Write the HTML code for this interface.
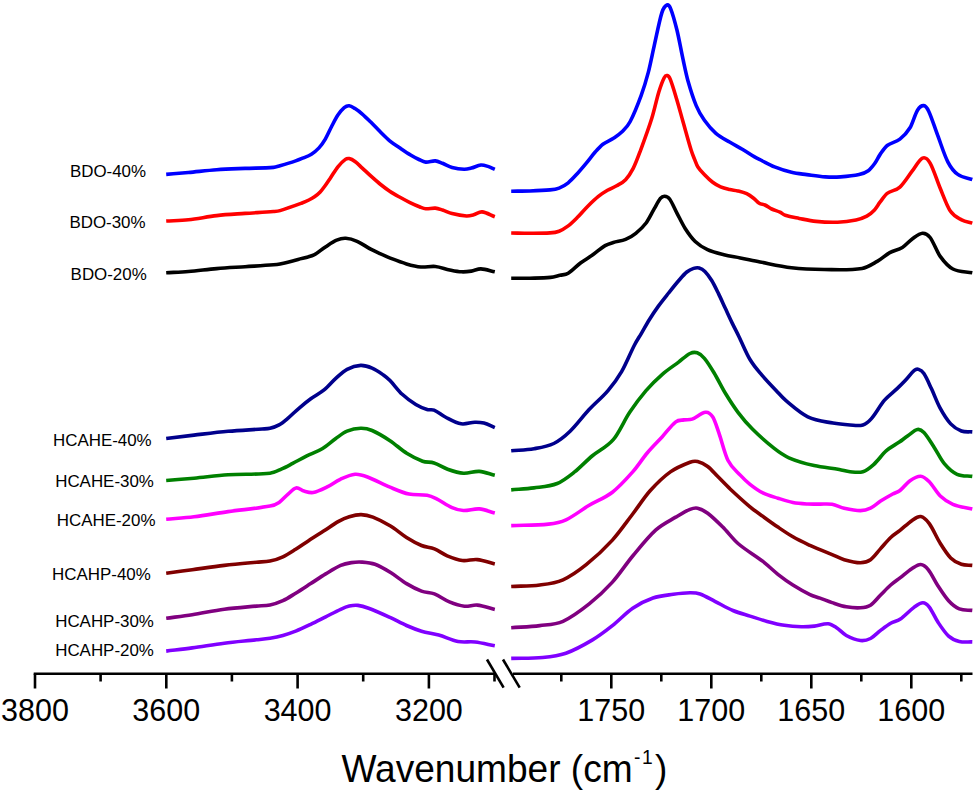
<!DOCTYPE html>
<html><head><meta charset="utf-8"><style>
html,body{margin:0;padding:0;background:#fff;width:976px;height:793px;overflow:hidden}
svg{display:block;font-family:"Liberation Sans",sans-serif}
.curves path{fill:none;stroke-width:3.6;stroke-linejoin:round;stroke-linecap:butt}
.ax line{stroke:#000;stroke-width:2.6;stroke-linecap:butt}
.tl{font-size:30.5px;text-anchor:middle}
</style></head><body>
<svg width="976" height="793" viewBox="0 0 976 793">
<g class="curves">
<path d="M166.2,174.4 C173.60,173.77 181.00,173.19 188.4,172.5 C197.83,171.62 207.27,170.38 216.7,169.7 C226.17,169.02 235.63,168.78 245.1,168.4 C254.57,168.02 264.03,168.13 273.5,167.4 C275.67,167.23 277.83,166.33 280.0,165.7 C285.00,164.23 290.00,162.76 295.0,161.1 C297.53,160.26 300.07,159.27 302.6,158.2 C305.53,156.97 308.47,156.04 311.4,154.2 C313.93,152.61 316.47,150.65 319.0,147.9 C321.10,145.62 323.20,142.67 325.3,139.1 C327.40,135.53 329.50,130.50 331.6,126.5 C333.70,122.50 335.80,118.25 337.9,115.1 C340.00,111.95 342.10,109.35 344.2,107.6 C345.87,106.21 347.53,105.55 349.2,105.7 C351.13,105.88 353.07,107.38 355.0,108.6 C357.33,110.08 359.67,111.80 362.0,113.8 C365.00,116.37 368.00,119.35 371.0,122.3 C374.00,125.25 377.00,128.53 380.0,131.5 C383.23,134.70 386.47,138.13 389.7,140.8 C393.13,143.63 396.57,145.68 400.0,148.0 C403.67,150.48 407.33,152.98 411.0,155.2 C413.67,156.81 416.33,158.25 419.0,159.5 C421.23,160.55 423.47,161.91 425.7,162.1 C428.90,162.37 432.10,160.67 435.3,160.9 C437.70,161.07 440.10,162.37 442.5,163.3 C445.70,164.54 448.90,166.51 452.1,167.4 C456.10,168.51 460.10,169.15 464.1,169.3 C466.50,169.39 468.90,168.71 471.3,168.1 C474.50,167.28 477.70,165.33 480.9,165.0 C483.27,164.76 485.63,165.67 488.0,166.4 C490.27,167.10 492.53,168.33 494.8,169.3" stroke="#0000ff"/>
<path d="M166.2,221.0 C173.60,220.60 181.00,220.59 188.4,219.8 C197.83,218.79 207.27,216.66 216.7,215.6 C226.17,214.53 235.63,214.08 245.1,213.4 C254.57,212.72 264.03,212.26 273.5,211.5 C275.67,211.33 277.83,211.25 280.0,210.6 C287.33,208.41 294.67,205.69 302.0,203.0 C304.30,202.16 306.60,201.14 308.9,200.0 C310.77,199.07 312.63,198.12 314.5,196.8 C316.40,195.45 318.30,193.99 320.2,192.0 C321.90,190.22 323.60,187.82 325.3,185.5 C326.97,183.22 328.63,180.67 330.3,178.2 C332.83,174.44 335.37,169.95 337.9,166.8 C340.40,163.69 342.90,161.21 345.4,159.4 C346.67,158.48 347.93,158.32 349.2,158.6 C351.13,159.02 353.07,160.11 355.0,161.5 C357.33,163.18 359.67,165.66 362.0,167.8 C365.00,170.56 368.00,173.50 371.0,176.2 C374.00,178.90 377.00,181.59 380.0,184.0 C383.23,186.59 386.47,189.05 389.7,191.2 C393.13,193.48 396.57,195.37 400.0,197.3 C403.33,199.17 406.67,200.98 410.0,202.6 C413.33,204.22 416.67,205.68 420.0,207.0 C421.90,207.75 423.80,208.66 425.7,208.8 C428.90,209.03 432.10,207.87 435.3,208.1 C437.70,208.27 440.10,209.21 442.5,210.0 C445.70,211.05 448.90,212.80 452.1,213.6 C456.90,214.80 461.70,215.73 466.5,216.0 C468.90,216.13 471.30,215.43 473.7,214.8 C476.47,214.07 479.23,211.65 482.0,211.9 C486.27,212.28 490.53,215.10 494.8,216.7" stroke="#ff0000"/>
<path d="M166.2,272.8 C173.60,272.37 181.00,272.12 188.4,271.5 C197.83,270.72 207.27,269.40 216.7,268.6 C226.17,267.80 235.63,267.33 245.1,266.7 C254.57,266.07 264.03,265.56 273.5,264.8 C275.67,264.63 277.83,264.38 280.0,263.9 C286.03,262.58 292.07,261.00 298.1,259.4 C303.40,258.00 308.70,257.33 314.0,254.9 C317.80,253.16 321.60,249.38 325.4,246.9 C329.17,244.44 332.93,241.69 336.7,240.1 C339.73,238.82 342.77,238.12 345.8,238.3 C349.57,238.52 353.33,239.65 357.1,241.3 C361.63,243.28 366.17,246.75 370.7,249.2 C373.80,250.88 376.90,252.28 380.0,253.7 C383.23,255.18 386.47,256.66 389.7,257.9 C395.30,260.06 400.90,262.27 406.5,263.9 C411.30,265.30 416.10,266.57 420.9,267.0 C425.70,267.43 430.50,266.02 435.3,266.5 C440.10,266.98 444.90,268.93 449.7,269.9 C453.67,270.70 457.63,271.58 461.6,271.8 C464.83,271.98 468.07,271.59 471.3,271.1 C474.50,270.62 477.70,268.80 480.9,268.9 C485.53,269.04 490.17,270.83 494.8,271.8" stroke="#000000"/>
<path d="M166.2,438.5 C175.47,437.37 184.73,436.18 194.0,435.1 C205.37,433.78 216.73,432.32 228.1,431.3 C239.43,430.28 250.77,429.81 262.1,429.0 C264.73,428.81 267.37,428.94 270.0,428.3 C273.03,427.57 276.07,426.61 279.1,424.9 C282.10,423.21 285.10,420.61 288.1,418.1 C291.90,414.91 295.70,411.03 299.5,407.8 C303.27,404.60 307.03,401.54 310.8,398.8 C315.33,395.50 319.87,393.40 324.4,389.7 C328.20,386.60 332.00,381.81 335.8,378.4 C339.57,375.01 343.33,371.27 347.1,369.3 C351.63,366.93 356.17,365.62 360.7,365.4 C364.50,365.22 368.30,366.49 372.1,368.1 C375.87,369.69 379.63,372.37 383.4,375.0 C385.60,376.54 387.80,378.34 390.0,380.6 C394.07,384.77 398.13,390.53 402.2,394.3 C406.73,398.50 411.27,401.73 415.8,404.5 C419.57,406.80 423.33,408.34 427.1,409.5 C429.40,410.21 431.70,409.15 434.0,410.1 C437.77,411.65 441.53,415.10 445.3,417.0 C450.60,419.67 455.90,422.87 461.2,423.8 C465.73,424.60 470.27,422.34 474.8,422.2 C477.83,422.11 480.87,422.28 483.9,423.1 C487.53,424.08 491.17,426.10 494.8,427.6" stroke="#00008c"/>
<path d="M166.2,480.5 C175.47,479.73 184.73,479.05 194.0,478.2 C205.37,477.15 216.73,475.55 228.1,474.8 C242.07,473.88 256.03,474.70 270.0,473.2 C273.77,472.80 277.53,470.73 281.3,469.1 C285.10,467.46 288.90,465.36 292.7,463.4 C297.23,461.06 301.77,458.46 306.3,456.2 C311.60,453.56 316.90,451.88 322.2,448.7 C326.73,445.98 331.27,441.69 335.8,438.5 C339.57,435.85 343.33,432.74 347.1,431.2 C351.63,429.34 356.17,428.43 360.7,428.3 C364.50,428.19 368.30,428.89 372.1,430.5 C378.07,433.03 384.03,436.77 390.0,440.7 C395.57,444.37 401.13,449.80 406.7,453.3 C412.00,456.63 417.30,459.32 422.6,461.2 C426.40,462.55 430.20,461.78 434.0,463.0 C438.53,464.45 443.07,467.63 447.6,469.2 C452.87,471.03 458.13,472.83 463.4,473.2 C468.70,473.57 474.00,471.05 479.3,471.4 C484.47,471.75 489.63,474.00 494.8,475.3" stroke="#008000"/>
<path d="M166.2,519.2 C175.47,518.40 184.73,517.94 194.0,516.8 C205.37,515.40 216.73,513.20 228.1,511.6 C242.07,509.63 256.03,508.62 270.0,506.1 C273.03,505.55 276.07,504.41 279.1,502.4 C282.10,500.41 285.10,496.66 288.1,494.1 C290.77,491.83 293.43,488.40 296.1,487.9 C298.73,487.40 301.37,490.39 304.0,491.1 C307.03,491.92 310.07,493.02 313.1,492.5 C317.63,491.72 322.17,489.40 326.7,487.2 C331.23,485.00 335.77,481.36 340.3,479.3 C345.23,477.06 350.17,474.72 355.1,474.3 C359.23,473.95 363.37,475.47 367.5,477.0 C375.00,479.77 382.50,484.11 390.0,487.2 C396.33,489.81 402.67,492.72 409.0,494.1 C415.03,495.42 421.07,494.28 427.1,495.3 C430.13,495.81 433.17,497.20 436.2,498.7 C441.50,501.33 446.80,505.40 452.1,507.7 C455.87,509.33 459.63,510.33 463.4,510.5 C468.70,510.73 474.00,508.48 479.3,508.9 C484.47,509.31 489.63,511.63 494.8,513.0" stroke="#ff00ff"/>
<path d="M166.2,573.3 C174.87,572.10 183.53,570.88 192.2,569.7 C202.90,568.25 213.60,566.65 224.3,565.4 C235.03,564.15 245.77,563.21 256.5,562.2 C261.00,561.78 265.50,562.02 270.0,561.1 C274.30,560.22 278.60,558.77 282.9,556.8 C287.17,554.84 291.43,551.97 295.7,549.3 C300.00,546.61 304.30,543.51 308.6,540.7 C313.60,537.44 318.60,534.32 323.6,531.1 C328.60,527.88 333.60,524.20 338.6,521.4 C342.17,519.40 345.73,517.78 349.3,516.7 C353.23,515.51 357.17,514.53 361.1,514.6 C365.03,514.67 368.97,515.57 372.9,517.1 C378.77,519.37 384.63,522.44 390.5,526.0 C395.83,529.24 401.17,534.15 406.5,537.5 C411.50,540.65 416.50,543.46 421.5,545.5 C425.80,547.26 430.10,547.18 434.4,548.9 C438.67,550.61 442.93,554.03 447.2,555.8 C452.23,557.89 457.27,559.86 462.3,560.5 C467.30,561.13 472.30,559.08 477.3,559.6 C483.13,560.21 488.97,562.47 494.8,563.9" stroke="#800000"/>
<path d="M166.2,618.3 C174.87,617.10 183.53,616.04 192.2,614.7 C202.90,613.04 213.60,610.73 224.3,609.3 C235.03,607.86 245.77,607.11 256.5,606.1 C261.00,605.68 265.50,605.92 270.0,605.0 C274.30,604.12 278.60,602.67 282.9,600.7 C287.17,598.74 291.43,595.82 295.7,593.2 C300.70,590.12 305.70,586.82 310.7,583.6 C315.70,580.38 320.70,576.93 325.7,573.9 C330.70,570.87 335.70,567.60 340.7,565.4 C344.27,563.83 347.83,563.15 351.4,562.6 C354.97,562.05 358.53,561.84 362.1,562.1 C366.40,562.41 370.70,562.71 375.0,564.3 C380.33,566.27 385.67,569.53 391.0,572.8 C396.17,575.97 401.33,580.50 406.5,583.6 C411.50,586.60 416.50,589.25 421.5,591.1 C425.80,592.69 430.10,592.24 434.4,593.9 C439.40,595.84 444.40,599.85 449.4,601.9 C454.40,603.95 459.40,605.63 464.4,606.2 C468.70,606.69 473.00,604.65 477.3,605.1 C483.13,605.71 488.97,607.97 494.8,609.4" stroke="#800080"/>
<path d="M166.2,651.1 C174.87,650.03 183.53,649.08 192.2,647.9 C202.90,646.45 213.60,644.55 224.3,643.2 C235.03,641.85 245.77,640.97 256.5,639.8 C261.00,639.31 265.50,638.95 270.0,638.2 C274.30,637.48 278.60,636.59 282.9,635.4 C287.17,634.22 291.43,632.80 295.7,631.1 C300.70,629.10 305.70,626.68 310.7,624.3 C315.70,621.92 320.70,619.30 325.7,616.8 C330.70,614.30 335.70,611.57 340.7,609.3 C343.57,608.00 346.43,606.75 349.3,606.1 C352.17,605.45 355.03,605.09 357.9,605.4 C361.47,605.79 365.03,606.87 368.6,608.2 C375.73,610.87 382.87,614.14 390.0,617.4 C395.50,619.91 401.00,623.09 406.5,625.5 C411.50,627.69 416.50,629.71 421.5,631.2 C427.23,632.91 432.97,633.48 438.7,635.1 C445.13,636.92 451.57,640.28 458.0,641.5 C463.70,642.58 469.40,641.33 475.1,642.0 C481.67,642.77 488.23,644.53 494.8,645.8" stroke="#8000ff"/>
<path d="M511.2,191.2 C517.47,191.13 523.73,191.21 530.0,191.0 C536.67,190.78 543.33,190.56 550.0,189.9 C553.03,189.60 556.07,189.28 559.1,188.1 C562.13,186.92 565.17,185.21 568.2,182.8 C571.20,180.41 574.20,176.97 577.2,173.7 C580.23,170.40 583.27,166.75 586.3,163.1 C589.33,159.45 592.37,155.25 595.4,151.8 C597.90,148.95 600.40,146.08 602.9,144.2 C606.43,141.55 609.97,140.51 613.5,138.2 C616.53,136.21 619.57,134.33 622.6,131.3 C625.13,128.77 627.67,126.40 630.2,121.5 C633.87,114.40 637.53,105.25 641.2,95.3 C643.57,88.88 645.93,81.42 648.3,72.4 C650.30,64.78 652.30,54.19 654.3,45.4 C656.83,34.26 659.37,20.66 661.9,12.6 C663.60,7.19 665.30,5.73 667.0,5.0 C668.23,4.47 669.47,5.68 670.7,8.8 C672.80,14.11 674.90,21.68 677.0,30.3 C679.03,38.65 681.07,50.33 683.1,59.7 C684.73,67.23 686.37,75.28 688.0,81.0 C690.73,90.58 693.47,99.05 696.2,105.6 C698.93,112.15 701.67,116.44 704.4,120.3 C708.23,125.71 712.07,130.11 715.9,133.4 C720.60,137.44 725.30,139.49 730.0,142.3 C734.10,144.75 738.20,146.77 742.3,149.2 C746.40,151.63 750.50,154.49 754.6,156.9 C756.63,158.09 758.67,158.98 760.7,160.0 C765.33,162.32 769.97,165.05 774.6,166.9 C780.23,169.15 785.87,170.95 791.5,172.3 C796.60,173.52 801.70,173.91 806.8,174.6 C812.97,175.44 819.13,176.48 825.3,176.9 C830.40,177.25 835.50,177.25 840.6,176.9 C846.77,176.48 852.93,175.98 859.1,174.6 C862.17,173.91 865.23,172.85 868.3,170.7 C870.37,169.25 872.43,166.64 874.5,163.8 C876.33,161.28 878.17,157.24 880.0,154.6 C882.40,151.14 884.80,147.36 887.2,145.5 C891.43,142.22 895.67,142.49 899.9,139.2 C903.27,136.59 906.63,133.35 910.0,127.8 C912.50,123.68 915.00,114.22 917.5,110.2 C919.60,106.82 921.70,105.38 923.8,105.6 C925.47,105.78 927.13,107.83 928.8,111.4 C931.77,117.76 934.73,127.53 937.7,135.4 C941.07,144.33 944.43,155.27 947.8,161.8 C951.13,168.27 954.47,171.99 957.8,174.4 C962.63,177.89 967.47,177.80 972.3,179.5" stroke="#0000ff"/>
<path d="M511.2,233.0 C517.47,233.10 523.73,233.32 530.0,233.3 C536.67,233.28 543.33,233.38 550.0,232.9 C553.03,232.68 556.07,232.37 559.1,231.2 C562.13,230.03 565.17,228.18 568.2,225.9 C571.20,223.65 574.20,220.62 577.2,217.6 C580.73,214.05 584.27,209.73 587.8,206.2 C591.33,202.67 594.87,199.25 598.4,196.4 C601.43,193.95 604.47,192.07 607.5,190.3 C610.53,188.53 613.57,187.58 616.6,185.8 C619.60,184.04 622.60,182.84 625.6,179.7 C628.13,177.04 630.67,173.31 633.2,168.4 C635.47,164.01 637.73,157.91 640.0,151.8 C643.93,141.21 647.87,130.79 651.8,118.3 C654.17,110.79 656.53,99.55 658.9,91.8 C660.67,86.02 662.43,81.15 664.2,77.7 C665.20,75.75 666.20,75.32 667.2,75.6 C668.23,75.89 669.27,76.83 670.3,79.4 C672.40,84.63 674.50,92.01 676.6,99.0 C678.77,106.21 680.93,114.38 683.1,122.0 C685.77,131.38 688.43,141.32 691.1,150.0 C692.23,153.69 693.37,156.27 694.5,159.1 C695.63,161.93 696.77,165.25 697.9,167.0 C700.20,170.55 702.50,172.62 704.8,175.0 C707.43,177.72 710.07,180.32 712.7,182.3 C715.33,184.28 717.97,185.78 720.6,186.9 C723.63,188.18 726.67,188.79 729.7,189.5 C732.37,190.12 735.03,190.24 737.7,190.9 C740.70,191.64 743.70,192.32 746.7,193.7 C749.00,194.76 751.30,196.43 753.6,198.2 C755.47,199.63 757.33,202.18 759.2,203.3 C761.10,204.44 763.00,204.13 764.9,205.0 C767.17,206.03 769.43,207.92 771.7,209.0 C774.47,210.32 777.23,210.92 780.0,212.2 C781.77,213.02 783.53,214.73 785.3,215.3 C789.93,216.80 794.57,217.48 799.2,218.4 C804.83,219.52 810.47,220.84 816.1,221.4 C823.27,222.11 830.43,222.47 837.6,222.2 C843.73,221.97 849.87,221.18 856.0,219.9 C859.60,219.15 863.20,218.05 866.8,216.1 C869.37,214.71 871.93,212.60 874.5,209.9 C876.33,207.97 878.17,204.58 880.0,202.2 C882.40,199.08 884.80,195.22 887.2,193.4 C891.43,190.19 895.67,190.90 899.9,187.1 C904.10,183.33 908.30,176.09 912.5,170.7 C915.83,166.42 919.17,159.54 922.5,158.1 C925.03,157.01 927.57,158.78 930.1,163.1 C933.47,168.84 936.83,180.32 940.2,188.3 C943.57,196.28 946.93,206.04 950.3,211.0 C954.07,216.54 957.83,217.73 961.6,219.8 C965.17,221.76 968.73,222.00 972.3,223.1" stroke="#ff0000"/>
<path d="M511.2,278.3 C517.47,278.27 523.73,278.34 530.0,278.2 C536.83,278.04 543.67,278.06 550.5,277.4 C553.67,277.09 556.83,276.05 560.0,275.3 C562.73,274.65 565.47,274.84 568.2,273.2 C572.30,270.74 576.40,266.07 580.5,263.0 C584.60,259.93 588.70,257.70 592.8,254.8 C596.90,251.90 601.00,248.06 605.1,245.6 C607.83,243.96 610.57,243.33 613.3,242.5 C617.40,241.26 621.50,241.08 625.6,239.4 C629.00,238.01 632.40,236.02 635.8,233.3 C639.23,230.55 642.67,227.57 646.1,223.0 C648.83,219.37 651.57,213.40 654.3,208.7 C656.33,205.20 658.37,200.89 660.4,198.4 C661.77,196.73 663.13,196.11 664.5,196.2 C666.20,196.31 667.90,196.71 669.6,199.0 C672.00,202.24 674.40,208.25 676.8,212.8 C679.53,217.98 682.27,223.94 685.0,228.2 C688.40,233.50 691.80,238.25 695.2,241.5 C699.30,245.42 703.40,247.80 707.5,249.7 C712.97,252.23 718.43,253.43 723.9,254.8 C729.37,256.17 734.83,256.81 740.3,257.9 C746.87,259.21 753.43,260.74 760.0,262.0 C770.50,264.01 781.00,266.47 791.5,267.7 C802.40,268.97 813.30,269.38 824.2,269.5 C836.80,269.64 849.40,270.43 862.0,268.5 C867.07,267.73 872.13,264.30 877.2,261.4 C881.40,259.00 885.60,254.92 889.8,252.6 C894.00,250.28 898.20,250.07 902.4,247.5 C905.77,245.44 909.13,241.10 912.5,238.7 C915.83,236.33 919.17,233.43 922.5,233.2 C925.03,233.03 927.57,234.18 930.1,237.5 C933.47,241.91 936.83,251.75 940.2,256.4 C944.43,262.25 948.67,266.84 952.9,269.0 C959.37,272.30 965.83,271.53 972.3,272.8" stroke="#000000"/>
<path d="M511.2,450.8 C518.80,450.10 526.40,450.00 534.0,448.7 C540.60,447.57 547.20,446.68 553.8,443.5 C559.23,440.88 564.67,436.52 570.1,431.3 C576.43,425.22 582.77,416.40 589.1,409.6 C595.40,402.83 601.70,397.97 608.0,390.6 C612.53,385.30 617.07,379.40 621.6,371.6 C625.90,364.20 630.20,353.32 634.5,345.0 C636.80,340.55 639.10,337.23 641.4,333.3 C644.03,328.80 646.67,323.91 649.3,319.7 C652.33,314.85 655.37,310.30 658.4,306.1 C661.80,301.40 665.20,297.27 668.6,293.0 C672.00,288.73 675.40,284.42 678.8,280.5 C681.47,277.42 684.13,274.18 686.8,272.0 C689.07,270.15 691.33,269.13 693.6,268.4 C695.47,267.80 697.33,267.49 699.2,268.0 C701.10,268.52 703.00,269.60 704.9,271.5 C707.17,273.77 709.43,276.82 711.7,280.5 C713.97,284.18 716.23,288.97 718.5,293.6 C720.77,298.23 723.03,303.42 725.3,308.3 C727.60,313.25 729.90,318.33 732.2,323.1 C734.47,327.80 736.73,332.06 739.0,336.7 C742.67,344.20 746.33,353.35 750.0,359.5 C753.97,366.15 757.93,370.39 761.9,375.1 C766.70,380.79 771.50,385.60 776.3,390.7 C779.53,394.13 782.77,398.02 786.0,400.7 C793.27,406.72 800.53,413.34 807.8,416.8 C816.20,420.80 824.60,421.47 833.0,423.1 C838.67,424.20 844.33,424.64 850.0,425.0 C854.30,425.27 858.60,426.29 862.9,425.0 C865.73,424.15 868.57,421.86 871.4,418.6 C875.70,413.66 880.00,405.42 884.3,400.4 C888.57,395.42 892.83,392.67 897.1,388.6 C899.97,385.87 902.83,383.03 905.7,380.0 C908.57,376.97 911.43,372.76 914.3,370.4 C915.73,369.22 917.17,368.92 918.6,369.4 C920.37,369.99 922.13,370.95 923.9,373.6 C926.40,377.35 928.90,383.27 931.4,388.6 C934.27,394.71 937.13,402.66 940.0,407.9 C943.57,414.42 947.13,420.05 950.7,423.9 C954.27,427.75 957.83,429.68 961.4,431.0 C965.03,432.35 968.67,431.60 972.3,431.9" stroke="#00008c"/>
<path d="M511.2,489.9 C518.80,489.23 526.40,488.96 534.0,487.9 C541.73,486.82 549.47,486.55 557.2,483.5 C563.00,481.21 568.80,476.47 574.6,471.9 C580.43,467.30 586.27,460.87 592.1,456.0 C599.23,450.04 606.37,447.69 613.5,439.4 C618.90,433.12 624.30,420.41 629.7,412.3 C635.13,404.14 640.57,396.93 646.0,390.6 C651.43,384.27 656.87,379.05 662.3,374.3 C667.73,369.55 673.17,366.18 678.6,362.1 C682.40,359.25 686.20,355.40 690.0,353.5 C692.40,352.30 694.80,352.00 697.2,352.8 C699.60,353.60 702.00,355.46 704.4,358.3 C707.60,362.09 710.80,367.37 714.0,372.7 C718.00,379.37 722.00,387.70 726.0,394.3 C730.00,400.90 734.00,407.03 738.0,412.3 C742.80,418.63 747.60,424.30 752.4,429.1 C759.57,436.27 766.73,442.56 773.9,448.2 C778.90,452.13 783.90,455.64 788.9,457.8 C797.30,461.44 805.70,463.67 814.1,465.6 C822.50,467.53 830.90,467.97 839.3,469.4 C842.87,470.01 846.43,471.35 850.0,471.7 C854.30,472.12 858.60,472.99 862.9,471.7 C866.47,470.63 870.03,467.79 873.6,464.6 C877.87,460.79 882.13,454.44 886.4,450.7 C890.70,446.94 895.00,445.10 899.3,442.1 C902.17,440.10 905.03,437.68 907.9,435.7 C911.10,433.48 914.30,430.14 917.5,429.5 C919.63,429.07 921.77,430.26 923.9,432.5 C927.13,435.89 930.37,441.47 933.6,446.4 C937.17,451.84 940.73,459.37 944.3,463.6 C948.57,468.67 952.83,472.35 957.1,474.3 C962.17,476.62 967.23,475.70 972.3,476.4" stroke="#008000"/>
<path d="M511.2,525.6 C523.63,525.10 536.07,525.42 548.5,524.1 C554.33,523.48 560.17,522.49 566.0,519.8 C573.73,516.23 581.47,509.90 589.2,505.3 C596.93,500.70 604.67,498.14 612.4,492.2 C619.17,487.00 625.93,479.52 632.7,471.9 C637.53,466.46 642.37,458.75 647.2,453.0 C652.23,447.01 657.27,442.19 662.3,436.7 C666.80,431.79 671.30,425.28 675.8,421.8 C678.53,419.68 681.27,420.35 684.0,419.9 C686.70,419.45 689.40,420.05 692.1,419.1 C696.60,417.52 701.10,412.73 705.6,412.3 C708.00,412.07 710.40,413.39 712.8,417.1 C714.80,420.19 716.80,426.99 718.8,432.7 C721.83,441.36 724.87,454.23 727.9,460.2 C732.10,468.46 736.30,470.82 740.5,475.4 C743.67,478.85 746.83,481.83 750.0,484.3 C754.30,487.66 758.60,490.76 762.9,492.9 C767.90,495.39 772.90,496.60 777.9,498.2 C782.90,499.80 787.90,501.53 792.9,502.5 C797.90,503.47 802.90,503.70 807.9,504.0 C811.93,504.24 815.97,504.05 820.0,504.1 C824.03,504.15 828.07,503.62 832.1,504.3 C836.13,504.98 840.17,507.30 844.2,508.2 C849.60,509.40 855.00,510.60 860.4,510.6 C863.77,510.60 867.13,509.78 870.5,508.2 C873.87,506.62 877.23,503.25 880.6,501.1 C884.63,498.52 888.67,496.20 892.7,494.0 C895.13,492.67 897.57,492.37 900.0,490.5 C903.33,487.94 906.67,483.00 910.0,480.7 C913.57,478.24 917.13,476.00 920.7,476.2 C923.57,476.36 926.43,478.90 929.3,481.8 C932.87,485.40 936.43,492.30 940.0,495.7 C944.30,499.80 948.60,502.53 952.9,504.3 C959.37,506.96 965.83,507.43 972.3,509.0" stroke="#ff00ff"/>
<path d="M511.2,586.5 C520.73,586.00 530.27,586.23 539.8,585.0 C547.53,584.00 555.27,583.18 563.0,579.8 C570.73,576.42 578.47,570.91 586.2,564.7 C594.93,557.68 603.67,549.62 612.4,540.1 C619.17,532.72 625.93,522.85 632.7,514.0 C638.50,506.42 644.30,497.28 650.1,490.8 C656.87,483.24 663.63,476.75 670.4,471.9 C676.93,467.22 683.47,464.70 690.0,462.2 C692.53,461.23 695.07,460.88 697.6,461.5 C700.97,462.32 704.33,463.98 707.7,466.5 C711.07,469.02 714.43,473.23 717.8,476.6 C722.00,480.80 726.20,485.26 730.4,489.2 C736.93,495.33 743.47,501.33 750.0,506.8 C754.30,510.40 758.60,513.27 762.9,516.4 C767.90,520.04 772.90,523.70 777.9,527.1 C782.90,530.50 787.90,533.95 792.9,536.8 C798.60,540.05 804.30,542.71 810.0,545.4 C813.33,546.97 816.67,548.21 820.0,549.6 C824.03,551.28 828.07,552.92 832.1,554.6 C836.13,556.28 840.17,558.55 844.2,559.7 C849.60,561.25 855.00,562.70 860.4,562.7 C863.77,562.70 867.13,562.05 870.5,559.7 C873.87,557.35 877.23,552.30 880.6,548.6 C883.97,544.90 887.33,540.66 890.7,537.5 C893.80,534.59 896.90,532.88 900.0,530.4 C904.03,527.18 908.07,523.11 912.1,520.4 C914.97,518.48 917.83,515.97 920.7,516.5 C923.57,517.03 926.43,519.68 929.3,523.6 C932.87,528.48 936.43,537.18 940.0,542.9 C943.57,548.62 947.13,554.33 950.7,557.9 C954.27,561.47 957.83,563.06 961.4,564.3 C965.03,565.56 968.67,565.03 972.3,565.4" stroke="#800000"/>
<path d="M511.2,627.7 C520.73,627.00 530.27,626.78 539.8,625.6 C547.53,624.64 555.27,624.70 563.0,621.3 C571.73,617.46 580.47,610.83 589.2,603.9 C596.93,597.76 604.67,590.62 612.4,582.1 C619.17,574.65 625.93,564.12 632.7,556.0 C640.43,546.72 648.17,536.85 655.9,529.9 C662.67,523.82 669.43,520.97 676.2,516.9 C680.80,514.13 685.40,511.27 690.0,509.4 C692.53,508.37 695.07,507.66 697.6,508.2 C700.97,508.92 704.33,510.68 707.7,513.2 C712.73,516.98 717.77,522.07 722.8,527.1 C727.87,532.17 732.93,539.17 738.0,543.5 C746.30,550.60 754.60,554.99 762.9,561.4 C767.90,565.26 772.90,570.37 777.9,574.3 C782.90,578.23 787.90,581.84 792.9,585.0 C798.60,588.60 804.30,591.84 810.0,594.6 C813.33,596.21 816.67,596.89 820.0,598.1 C824.03,599.56 828.07,601.27 832.1,602.6 C836.83,604.17 841.57,605.93 846.3,606.8 C851.00,607.66 855.70,608.11 860.4,607.8 C863.77,607.58 867.13,607.33 870.5,605.2 C873.87,603.07 877.23,598.37 880.6,595.0 C883.97,591.63 887.33,587.97 890.7,585.0 C893.80,582.27 896.90,580.28 900.0,577.9 C904.03,574.81 908.07,571.21 912.1,568.6 C914.97,566.74 917.83,564.32 920.7,564.5 C923.20,564.66 925.70,566.52 928.2,569.6 C931.43,573.59 934.67,580.77 937.9,585.7 C941.47,591.14 945.03,596.83 948.6,600.7 C952.17,604.57 955.73,607.44 959.3,608.9 C963.63,610.67 967.97,609.90 972.3,610.4" stroke="#800080"/>
<path d="M511.2,658.4 C521.70,658.10 532.20,658.50 542.7,657.5 C550.43,656.76 558.17,655.92 565.9,653.2 C574.63,650.12 583.37,645.28 592.1,640.1 C598.87,636.08 605.63,630.92 612.4,625.6 C619.17,620.28 625.93,612.80 632.7,608.2 C639.47,603.60 646.23,600.32 653.0,598.0 C659.77,595.68 666.53,595.25 673.3,594.3 C678.87,593.52 684.43,592.86 690.0,592.8 C693.37,592.76 696.73,592.83 700.1,594.0 C705.17,595.76 710.23,599.05 715.3,601.6 C721.17,604.55 727.03,608.05 732.9,610.5 C738.60,612.88 744.30,614.28 750.0,616.1 C755.70,617.92 761.40,619.87 767.1,621.4 C772.83,622.94 778.57,624.40 784.3,625.3 C790.00,626.20 795.70,626.65 801.4,626.8 C805.70,626.91 810.00,626.60 814.3,626.1 C818.90,625.57 823.50,623.43 828.1,623.7 C830.80,623.86 833.50,625.65 836.2,627.4 C839.57,629.58 842.93,633.68 846.3,635.5 C851.00,638.04 855.70,639.92 860.4,640.5 C863.77,640.92 867.13,640.18 870.5,638.5 C873.87,636.82 877.23,632.93 880.6,630.4 C883.97,627.87 887.33,625.23 890.7,623.3 C893.80,621.53 896.90,621.43 900.0,619.3 C904.77,616.03 909.53,610.56 914.3,607.1 C917.17,605.02 920.03,602.70 922.9,602.7 C925.03,602.70 927.17,604.34 929.3,607.1 C932.17,610.81 935.03,617.79 937.9,622.1 C941.47,627.46 945.03,632.88 948.6,636.1 C952.17,639.32 955.73,640.53 959.3,641.4 C963.63,642.46 967.97,641.73 972.3,641.9" stroke="#8000ff"/>
</g>
<g class="ax">
<line x1="33.7" y1="673.7" x2="495" y2="673.7"/><line x1="513" y1="673.7" x2="972.5" y2="673.7"/>
<line x1="35.0" y1="673.7" x2="35.0" y2="688.5"/>
<line x1="100.6" y1="673.7" x2="100.6" y2="681.5"/>
<line x1="166.3" y1="673.7" x2="166.3" y2="688.5"/>
<line x1="231.9" y1="673.7" x2="231.9" y2="681.5"/>
<line x1="297.6" y1="673.7" x2="297.6" y2="688.5"/>
<line x1="363.2" y1="673.7" x2="363.2" y2="681.5"/>
<line x1="428.9" y1="673.7" x2="428.9" y2="688.5"/>
<line x1="494.5" y1="673.7" x2="494.5" y2="681.5"/>
<line x1="561.3" y1="673.7" x2="561.3" y2="681.5"/>
<line x1="611.3" y1="673.7" x2="611.3" y2="688.5"/>
<line x1="661.3" y1="673.7" x2="661.3" y2="681.5"/>
<line x1="711.3" y1="673.7" x2="711.3" y2="688.5"/>
<line x1="761.3" y1="673.7" x2="761.3" y2="681.5"/>
<line x1="811.3" y1="673.7" x2="811.3" y2="688.5"/>
<line x1="861.3" y1="673.7" x2="861.3" y2="681.5"/>
<line x1="911.3" y1="673.7" x2="911.3" y2="688.5"/>
<line x1="961.3" y1="673.7" x2="961.3" y2="681.5"/>
<line x1="487" y1="659.5" x2="503.6" y2="687.7"/><line x1="503" y1="659.5" x2="519.7" y2="687.7"/>
</g>
<g fill="#000">
<text transform="translate(69.9,177.4) scale(1.045,1)" font-size="16.2">BDO-40%</text>
<text transform="translate(69.4,227.5) scale(1.045,1)" font-size="16.2">BDO-30%</text>
<text transform="translate(70.6,279.5) scale(1.045,1)" font-size="16.2">BDO-20%</text>
<text transform="translate(53.0,445.9) scale(1.045,1)" font-size="16.2">HCAHE-40%</text>
<text transform="translate(55.2,486.9) scale(1.045,1)" font-size="16.2">HCAHE-30%</text>
<text transform="translate(56.8,525.7) scale(1.045,1)" font-size="16.2">HCAHE-20%</text>
<text transform="translate(52.1,579.7) scale(1.045,1)" font-size="16.2">HCAHP-40%</text>
<text transform="translate(55.2,627.3) scale(1.045,1)" font-size="16.2">HCAHP-30%</text>
<text transform="translate(55.2,655.7) scale(1.045,1)" font-size="16.2">HCAHP-20%</text>
<text class="tl" x="35.0" y="721">3800</text>
<text class="tl" x="166.3" y="721">3600</text>
<text class="tl" x="297.6" y="721">3400</text>
<text class="tl" x="428.9" y="721">3200</text>
<text class="tl" x="611.3" y="721">1750</text>
<text class="tl" x="711.3" y="721">1700</text>
<text class="tl" x="811.3" y="721">1650</text>
<text class="tl" x="911.3" y="721">1600</text>
<text transform="translate(341.5,781.9) scale(0.963,1)" font-size="38.5">Wavenumber (cm<tspan font-size="20" dx="1.5" dy="-17.5">-<tspan dx="1.5">1</tspan></tspan><tspan dx="2.5" dy="17.5">)</tspan></text>
</g>
</svg>
</body></html>
